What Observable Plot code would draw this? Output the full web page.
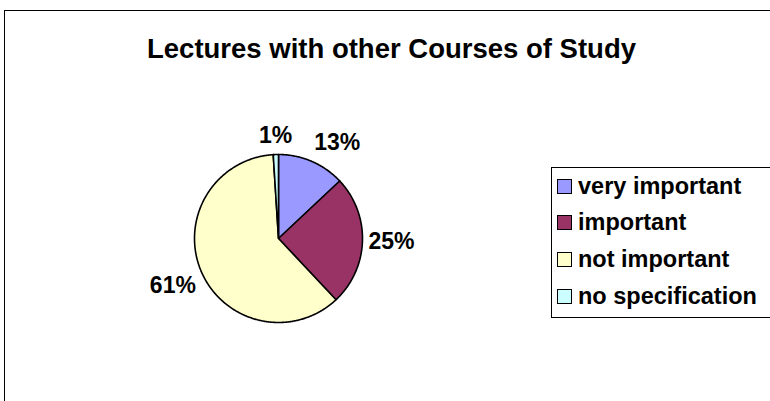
<!DOCTYPE html>
<html>
<head>
<meta charset="utf-8">
<script src="https://cdn.jsdelivr.net/npm/d3@7"></script>
<script src="https://cdn.jsdelivr.net/npm/@observablehq/plot@0.6"></script>
<style>
  html, body { margin: 0; padding: 0; background: #fff; }
  #wrap { position: relative; width: 770px; height: 401px; overflow: hidden; font-family: "Liberation Sans", Arial, sans-serif; }
  #frame { position: absolute; left: 4px; top: 10px; width: 800px; height: 420px; border-top: 1px solid #000; border-left: 1px solid #000; box-sizing: border-box; }
  #title { position: absolute; left: 0; top: 35px; width: 783px; text-align: center; font-weight: bold; font-size: 27.5px; line-height: 27px; color: #000; }
  #chart { position: absolute; left: 0; top: 0; }
  #legend { position: absolute; left: 551px; top: 167px; width: 260px; height: 151px; border: 1px solid #000; box-sizing: border-box; background: #fff; }
  .item { position: absolute; left: 5px; height: 24px; display: flex; align-items: center; font-weight: bold; font-size: 23.5px; color: #000; white-space: nowrap; }
  .sw { width: 13px; height: 13px; border: 1.5px solid #000; margin-right: 6px; flex: none; }
</style>
</head>
<body>
<div id="wrap">
  <div id="frame"></div>
  <div id="chart"></div>
  <div id="title"></div>
  <div id="legend"></div>
</div>
<script>
const title = "Lectures with other Courses of Study";
const categories = ["very important", "important", "not important", "no specification"];
const values = [13, 25, 61, 1];
const labels = ["13%", "25%", "61%", "1%"];
const colors = ["#9999FF", "#993366", "#FFFFCC", "#CCFFFF"];

const rows = categories.map((c, i) => ({category: c, value: values[i], label: labels[i]}));
const arcs = d3.pie().sort(null).value(d => d.value)(rows);

// slice outlines (unit circle, clockwise from 12 o'clock)
const slicePts = [];
for (const a of arcs) {
  const c = a.data.category;
  const n = Math.max(2, Math.ceil((a.endAngle - a.startAngle) / 0.01));
  slicePts.push({category: c, x: 0, y: 0});
  for (let k = 0; k <= n; k++) {
    const t = a.startAngle + (a.endAngle - a.startAngle) * k / n;
    slicePts.push({category: c, x: Math.sin(t), y: Math.cos(t)});
  }
  slicePts.push({category: c, x: 0, y: 0});
}

// label anchors just outside the rim, at each slice's mid-angle
const R = 84, kx = (R + 6) / R, ky = (R + 12) / R;
const labelPts = arcs.map(a => {
  const m = (a.startAngle + a.endAngle) / 2;
  const dx = Math.sin(m), dy = -Math.cos(m);
  return {
    label: a.data.label,
    x: dx * kx, y: -dy * ky,
    ta: dx > 0.3 ? "start" : dx < -0.3 ? "end" : "middle",
    la: dy < -0.3 ? "bottom" : dy > 0.3 ? "top" : "middle"
  };
});
const labelMarks = [];
for (const ta of ["start", "middle", "end"]) for (const la of ["top", "middle", "bottom"]) {
  const d = labelPts.filter(p => p.ta === ta && p.la === la);
  if (d.length) labelMarks.push(Plot.text(d, {
    x: "x", y: "y", text: "label", textAnchor: ta, lineAnchor: la,
    fontSize: 23, fontWeight: "bold", fill: "#000",
    fontFamily: "Liberation Sans, Arial, sans-serif"
  }));
}

const chart = Plot.plot({
  width: 770,
  height: 401,
  margin: 0,
  style: {background: "transparent", overflow: "visible"},
  x: {domain: [-1, 1], range: [278 - R, 278 + R], axis: null},
  y: {domain: [-1, 1], range: [238 + R, 238 - R], axis: null},
  color: {domain: categories, range: colors},
  marks: [
    Plot.line(slicePts, {x: "x", y: "y", z: "category", fill: "category", stroke: "#000", strokeWidth: 1.6, strokeLinejoin: "round", curve: "linear"}),
    ...labelMarks
  ]
});
document.getElementById("chart").appendChild(chart);
document.getElementById("title").textContent = title;

const color = chart.scale("color");
const legend = document.getElementById("legend");
categories.forEach((c, i) => {
  const item = document.createElement("div");
  item.className = "item";
  item.style.top = (6 + i * 36.7) + "px";
  const sw = document.createElement("span");
  sw.className = "sw";
  sw.style.background = color.apply(c);
  const tx = document.createElement("span");
  tx.textContent = c;
  item.appendChild(sw);
  item.appendChild(tx);
  legend.appendChild(item);
});
</script>
</body>
</html>
